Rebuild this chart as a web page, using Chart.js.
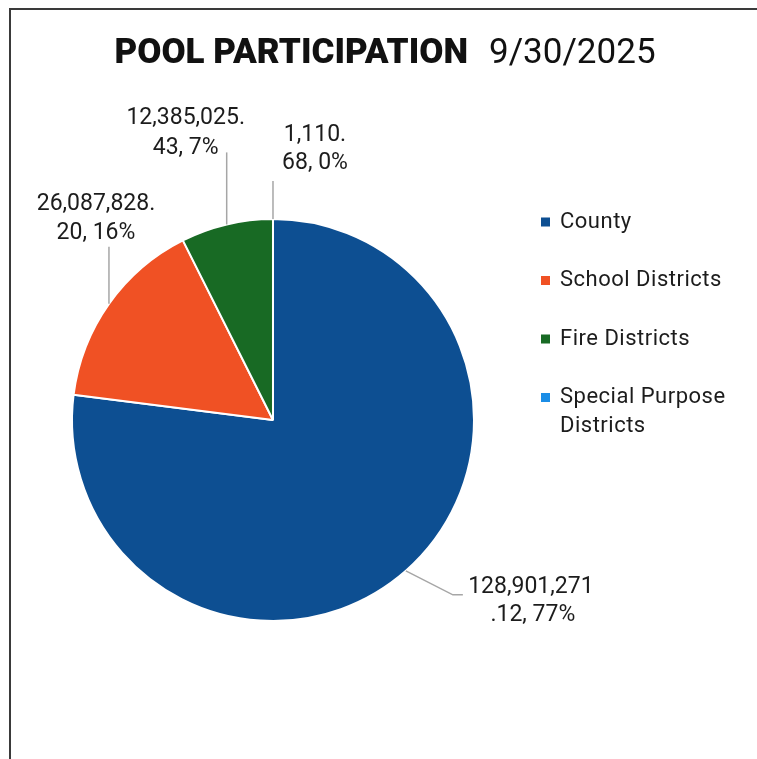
<!DOCTYPE html>
<html>
<head>
<meta charset="utf-8">
<script src="https://cdn.jsdelivr.net/npm/chart.js@4.4.1/dist/chart.umd.min.js"></script>
<style>
  html, body { margin: 0; padding: 0; background: #fff; }
  #wrap { position: relative; width: 757px; height: 759px; overflow: hidden; }
  #frame { position: absolute; left: 9px; top: 8px; width: 800px; height: 800px;
           border-left: 2px solid #3a3a3a; border-top: 2px solid #3a3a3a; }
  canvas { position: absolute; left: 0; top: 0; }
</style>
</head>
<body>
<div id="wrap">
  <div id="frame"></div>
  <canvas id="poolChart" width="757" height="759"></canvas>
</div>
<script>
// data
var categories = ['County', 'School Districts', 'Fire Districts', 'Special Purpose Districts'];
var balances = [128901271.12, 26087828.20, 12385025.43, 1110.68];
var sliceColors = ['#0d4f92', '#f05124', '#186a24', '#1b8de6'];
var titleBold = 'POOL PARTICIPATION';
var titleDate = '9/30/2025';

// where each data label sits, relative to the slice edge point (style only)
var labelLayout = [
  { elbow: [47, 24], end: [57, 24], l1: [68, -8], l2: [70, 20], dotFirst: false },
  { elbow: null, end: [0, -57], l1: [-13, -43], l2: [-13, -14], dotFirst: true },
  { elbow: null, end: [0, -72], l1: [-41, -34], l2: [-41, -4], dotFirst: true },
  { elbow: null, end: [0, -38], l1: [42, -46], l2: [42, -18], dotFirst: true }
];

var FONT = 'Roboto, "Liberation Sans", Arial, sans-serif';

function fmtMoney(v) {
  var parts = v.toFixed(2).split('.');
  parts[0] = parts[0].replace(/\B(?=(\d{3})+(?!\d))/g, ',');
  return parts;
}

var titlePlugin = {
  id: 'mixedTitle',
  afterDraw: function (chart) {
    var ctx = chart.ctx;
    ctx.save();
    ctx.fillStyle = '#111';
    ctx.textBaseline = 'alphabetic';
    ctx.font = '900 35px ' + FONT;
    var w1 = ctx.measureText(titleBold).width;
    ctx.font = '35px ' + FONT;
    var gap = 21;
    var w2 = ctx.measureText(titleDate).width;
    var x = 385 - (w1 + gap + w2) / 2;
    ctx.font = '900 35px ' + FONT;
    ctx.fillText(titleBold, x, 63);
    ctx.font = '35px ' + FONT;
    ctx.fillText(titleDate, x + w1 + gap, 63);
    ctx.restore();
  }
};

var labelPlugin = {
  id: 'sliceLabels',
  afterDraw: function (chart) {
    var ctx = chart.ctx;
    var meta = chart.getDatasetMeta(0);
    var total = balances.reduce(function (a, b) { return a + b; }, 0);
    ctx.save();
    ctx.font = '23px ' + FONT;
    ctx.fillStyle = '#1c1c1c';
    ctx.textAlign = 'center';
    ctx.textBaseline = 'middle';
    meta.data.forEach(function (arc, i) {
      var p = arc.getProps(['x', 'y', 'startAngle', 'endAngle', 'outerRadius'], true);
      var mid = (p.startAngle + p.endAngle) / 2;
      var ax = p.x + Math.cos(mid) * p.outerRadius;
      var ay = p.y + Math.sin(mid) * p.outerRadius;
      var lay = labelLayout[i];
      var ex = ax + lay.end[0], ey = ay + lay.end[1];
      ctx.strokeStyle = '#a6a6a6';
      ctx.lineWidth = 1.5;
      ctx.beginPath();
      ctx.moveTo(ax, ay);
      if (lay.elbow) ctx.lineTo(ax + lay.elbow[0], ay + lay.elbow[1]);
      ctx.lineTo(ex, ey);
      ctx.stroke();

      var m = fmtMoney(balances[i]);
      var pct = Math.round(balances[i] / total * 100) + '%';
      var line1, line2;
      if (lay.dotFirst) {
        line1 = m[0] + '.';
        line2 = m[1] + ', ' + pct;
      } else {
        line1 = m[0];
        line2 = '.' + m[1] + ', ' + pct;
      }
      ctx.fillText(line1, ex + lay.l1[0], ey + lay.l1[1]);
      ctx.fillText(line2, ex + lay.l2[0], ey + lay.l2[1]);
    });
    ctx.restore();
  }
};

var legendPlugin = {
  id: 'sideLegend',
  afterDraw: function (chart) {
    var ctx = chart.ctx;
    ctx.save();
    ctx.font = '22px ' + FONT;
    ctx.letterSpacing = '0.5px';
    ctx.textBaseline = 'middle';
    var y = 222;
    categories.forEach(function (name, i) {
      ctx.fillStyle = sliceColors[i];
      ctx.fillRect(541, y - 4.5, 9, 9);
      ctx.fillStyle = '#1c1c1c';
      var lines = name === 'Special Purpose Districts' ? ['Special Purpose', 'Districts'] : [name];
      lines.forEach(function (t, k) {
        ctx.fillText(t, 560, y + k * 29);
      });
      y += 58.5;
    });
    ctx.restore();
  }
};

var poolChart = new Chart(document.getElementById('poolChart'), {
  type: 'pie',
  data: {
    labels: categories,
    datasets: [{
      data: balances,
      backgroundColor: sliceColors,
      borderColor: '#ffffff',
      borderWidth: 2,
      hoverOffset: 0
    }]
  },
  options: {
    responsive: false,
    animation: false,
    layout: { padding: { left: 71, right: 282, top: 218, bottom: 137 } },
    plugins: {
      legend: { display: false },
      tooltip: { enabled: false },
      title: { display: false }
    }
  },
  plugins: [titlePlugin, labelPlugin, legendPlugin]
});
</script>
</body>
</html>
